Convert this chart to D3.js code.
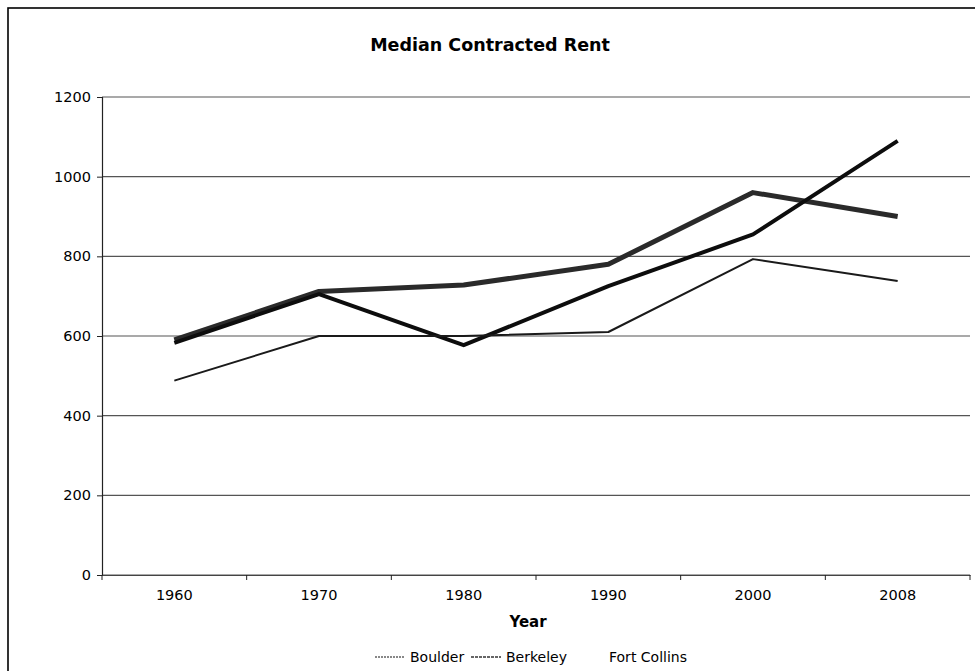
<!DOCTYPE html>
<html>
<head>
<meta charset="utf-8">
<script src="https://cdn.jsdelivr.net/npm/d3@7"></script>
<style>
  html, body { margin: 0; padding: 0; background: #fff; }
  svg { display: block; font-family: "DejaVu Sans", Verdana, sans-serif; }
</style>
</head>
<body>
<svg id="chart" width="975" height="671"></svg>
<script>
// Median contracted rent by census year
const years = ["1960", "1970", "1980", "1990", "2000", "2008"];
const boulder = [590, 712, 728, 780, 960, 900];
const berkeley = [583, 705, 577, 725, 855, 1090];
const fortCollins = [488, 600, 600, 610, 793, 738];
const yTicks = [0, 200, 400, 600, 800, 1000, 1200];

const series = [
  { name: "Boulder", values: boulder, color: "#2a2a2a", width: 5 },
  { name: "Berkeley", values: berkeley, color: "#0d0d0d", width: 4 },
  { name: "Fort Collins", values: fortCollins, color: "#1a1a1a", width: 2 }
];

const svg = d3.select("#chart");
const W = 975, H = 671;
const plot = { left: 102, right: 970, top: 97, bottom: 575 };

// outer chart frame
svg.append("rect")
  .attr("x", 8).attr("y", 8)
  .attr("width", W).attr("height", H)
  .attr("fill", "none").attr("stroke", "#000").attr("stroke-width", 1.6);

const x = d3.scaleBand().domain(years).range([plot.left, plot.right]);
const y = d3.scaleLinear().domain([0, 1200]).range([plot.bottom, plot.top]);

// gridlines
svg.append("g")
  .selectAll("line")
  .data(yTicks)
  .join("line")
  .attr("x1", plot.left).attr("x2", plot.right)
  .attr("y1", d => y(d)).attr("y2", d => y(d))
  .attr("stroke", "#555").attr("stroke-width", 1.2);

// y axis
const yAxis = svg.append("g")
  .attr("transform", `translate(${plot.left},0)`)
  .call(d3.axisLeft(y).tickValues(yTicks).tickSize(5).tickPadding(6).tickFormat(d3.format("d")));
yAxis.select(".domain").attr("stroke", "#222").attr("stroke-width", 1.2);
yAxis.selectAll(".tick line").attr("stroke", "#222");
yAxis.selectAll("text").attr("font-size", 14.5).attr("fill", "#000")
  .attr("font-family", "DejaVu Sans, Verdana, sans-serif");

// x axis with ticks at category boundaries
const xAxis = svg.append("g")
  .attr("transform", `translate(0,${plot.bottom})`)
  .call(d3.axisBottom(x).tickSize(0).tickPadding(15));
xAxis.select(".domain").attr("stroke", "#444").attr("stroke-width", 1.2);
xAxis.selectAll("text").attr("font-size", 14.5).attr("fill", "#000")
  .attr("font-family", "DejaVu Sans, Verdana, sans-serif");
svg.append("g")
  .selectAll("line")
  .data(d3.range(years.length + 1))
  .join("line")
  .attr("x1", i => plot.left + i * x.step())
  .attr("x2", i => plot.left + i * x.step())
  .attr("y1", plot.bottom).attr("y2", plot.bottom + 5)
  .attr("stroke", "#222");

// series lines
const line = d3.line()
  .x((d, i) => x(years[i]) + x.bandwidth() / 2)
  .y(d => y(d));

svg.append("g")
  .selectAll("path")
  .data(series)
  .join("path")
  .attr("d", d => line(d.values))
  .attr("fill", "none")
  .attr("stroke", d => d.color)
  .attr("stroke-width", d => d.width)
  .attr("stroke-linejoin", "round");

// title
svg.append("text")
  .attr("x", 490).attr("y", 51)
  .attr("text-anchor", "middle")
  .attr("font-size", 17.5).attr("font-weight", "bold")
  .text("Median Contracted Rent");

// x axis title
svg.append("text")
  .attr("x", (plot.left + plot.right) / 2 - 8).attr("y", 627)
  .attr("text-anchor", "middle")
  .attr("font-size", 15).attr("font-weight", "bold")
  .text("Year");

// legend
const legendItems = [
  { name: "Boulder", x: 375, stroke: "#888", dash: "2,1" },
  { name: "Berkeley", x: 471, stroke: "#666", dash: "3,1" },
  { name: "Fort Collins", x: 574, stroke: "#fff", dash: null }
];
const lg = svg.append("g").attr("transform", "translate(0,662)");
legendItems.forEach(it => {
  lg.append("line")
    .attr("x1", it.x).attr("x2", it.x + 30)
    .attr("y1", -5).attr("y2", -5)
    .attr("stroke", it.stroke).attr("stroke-width", 2)
    .attr("stroke-dasharray", it.dash);
  lg.append("text")
    .attr("x", it.x + 35).attr("y", 0)
    .attr("font-size", 14)
    .text(it.name);
});
</script>
</body>
</html>
